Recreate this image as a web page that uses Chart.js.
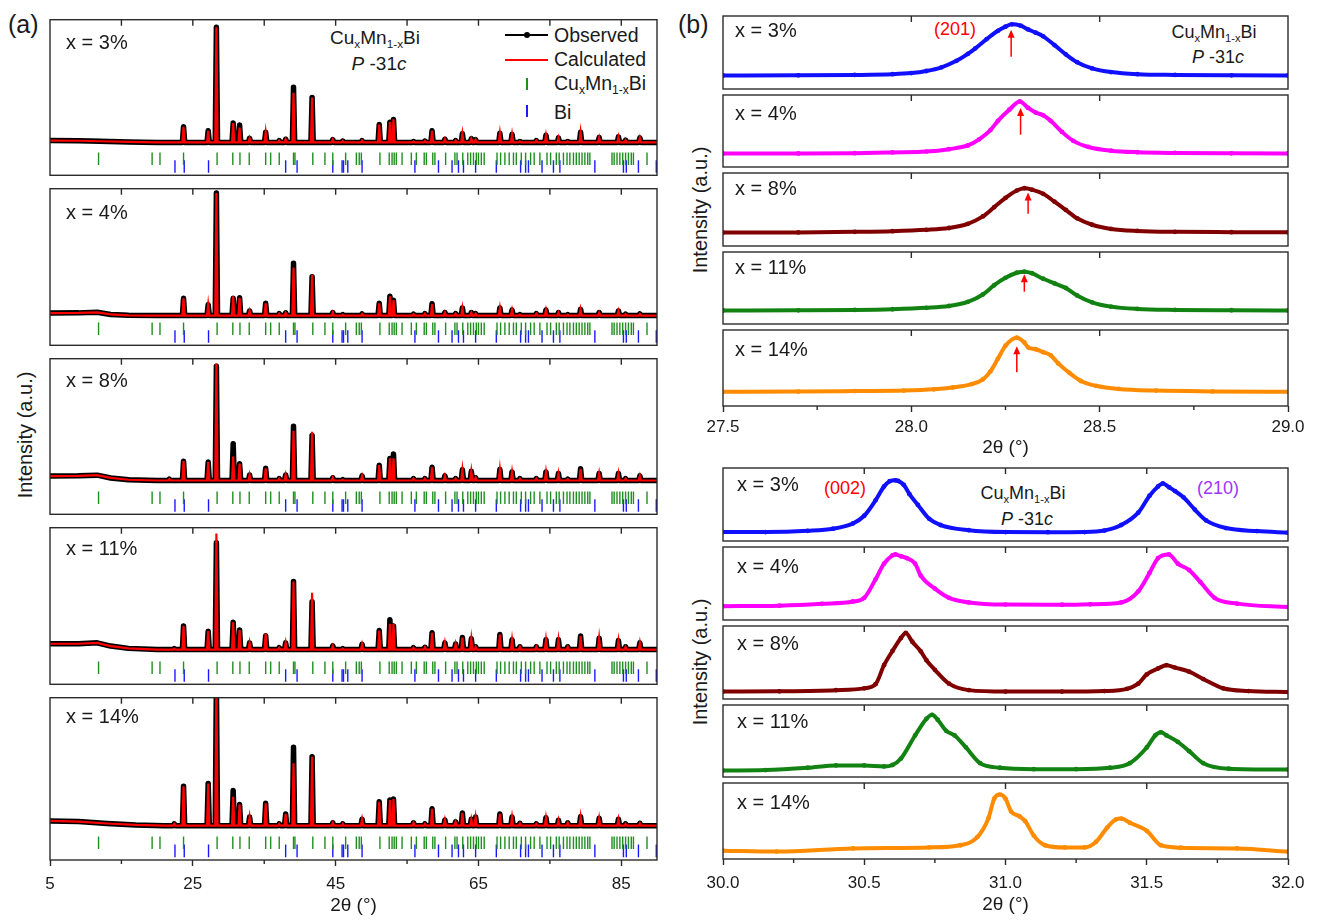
<!DOCTYPE html>
<html>
<head>
<meta charset="utf-8">
<title>CuxMn1-xBi XRD</title>
<script src="https://cdn.jsdelivr.net/npm/chart.js@4.4.1/dist/chart.umd.min.js"></script>
<style>
  body { margin: 0; background: #fff; }
  #fig { position: relative; width: 1317px; height: 920px; overflow: hidden; font-family: 'Liberation Sans', Arial, sans-serif; color: #1a1a1a; }
  #fig canvas { position: absolute; }
  .t { position: absolute; white-space: nowrap; line-height: 1; transform: translateY(-50%); font-size: 20px; }
  .t sub { font-size: 0.62em; vertical-align: -0.35em; line-height: 0; }
  .c { transform: translate(-50%, -50%); }
  .rot { transform: translate(-50%, -50%) rotate(-90deg); }
  .mk { position: absolute; }
</style>
</head>
<body>
<div id="fig">
  <div class="t" style="left:8px;top:24px;font-size:25px">(a)</div>
  <div class="t" style="left:678px;top:24px;font-size:25px">(b)</div>

  <div class="t rot" style="left:25px;top:435px">Intensity (a.u.)</div>
  <div class="t rot" style="left:700px;top:210px">Intensity (a.u.)</div>
  <div class="t rot" style="left:700px;top:662px">Intensity (a.u.)</div>

  <!-- panel (a) annotations and legend -->
  <div class="t c" style="left:375px;top:37px;font-size:19px">Cu<sub>x</sub>Mn<sub>1-x</sub>Bi</div>
  <div class="t c" style="left:379px;top:63px;font-size:19px"><i>P</i> -31<i>c</i></div>
  <div class="mk" style="left:505px;top:34px;width:43px;height:2px;background:#000"></div>
  <div class="mk" style="left:524px;top:32px;width:6px;height:6px;border-radius:50%;background:#000"></div>
  <div class="mk" style="left:505px;top:59px;width:43px;height:2px;background:#ff0000"></div>
  <div class="mk" style="left:526px;top:78px;width:1.5px;height:12px;background:#1f8f1f"></div>
  <div class="mk" style="left:526px;top:105px;width:1.5px;height:12px;background:#1a1aff"></div>
  <div class="t" style="left:554px;top:36px;font-size:19.5px">Observed</div>
  <div class="t" style="left:554px;top:60px;font-size:19.5px">Calculated</div>
  <div class="t" style="left:554px;top:84px;font-size:19.5px">Cu<sub>x</sub>Mn<sub>1-x</sub>Bi</div>
  <div class="t" style="left:554px;top:113px;font-size:19.5px">Bi</div>

  <!-- panel (b) annotations -->
  <div class="t" style="left:934px;top:29px;font-size:18px;color:#ff0000">(201)</div>
  <div class="t c" style="left:1214px;top:32px;font-size:18px">Cu<sub>x</sub>Mn<sub>1-x</sub>Bi</div>
  <div class="t c" style="left:1218px;top:57px;font-size:18px"><i>P</i> -31<i>c</i></div>
  <div class="t" style="left:824px;top:488px;font-size:18px;color:#ff0000">(002)</div>
  <div class="t c" style="left:1023px;top:493px;font-size:18px">Cu<sub>x</sub>Mn<sub>1-x</sub>Bi</div>
  <div class="t c" style="left:1027px;top:519px;font-size:18px"><i>P</i> -31<i>c</i></div>
  <div class="t" style="left:1197px;top:488px;font-size:18px;color:#a033ff">(210)</div>
</div>
<script>
// Sample labels
const samples = ["x = 3%", "x = 4%", "x = 8%", "x = 11%", "x = 14%"]

// Panel (a): 2θ axis
const xTicksA = [5, 25, 45, 65, 85]
const xMinorA = [15, 35, 55, 75]
const xTopA = [15, 25, 35, 45, 55, 65, 75, 85]

// Panel (a): peak positions and heights above background
const peakPos = [21.7, 22.4, 23.7, 27.15, 28.3, 30.65, 31.55, 32.95, 35.2, 37.1, 38.0, 39.1, 41.7, 44.6, 46.0, 48.7, 51.1, 52.6, 53.1, 55.9, 57.5, 58.5, 60.3, 61.8, 62.75, 64.0, 64.6, 68.0, 69.7, 70.8, 73.1, 74.45, 76.2, 77.5, 79.3, 81.9, 84.6, 85.6, 87.6]

const obs3 = [0, 0, 17, 12.7, 125, 21, 19, 4.5, 11, 2, 3.5, 60, 48.7, 3, 1.5, 2, 19.5, 22, 25, 1, 1.5, 12.7, 3.5, 2, 9.5, 4, 3, 10, 8.7, 1, 2, 7.7, 5, 1, 11, 5.3, 6, 2.5, 5]
const calc3 = [0, 0, 17, 12.7, 125, 21, 16, 4.5, 11, 2, 3.5, 54, 48.7, 3, 1.5, 2, 19.5, 22, 25, 1, 1.5, 12.7, 3.5, 2, 9.5, 4, 3, 10, 8.7, 1, 2, 7.7, 5, 1, 11, 5.3, 6, 2.5, 5]
const obs4 = [0, 0, 18.7, 11.7, 133, 18.7, 19.3, 5, 13.3, 2, 3, 56.7, 42, 3.3, 1, 1.7, 13.3, 21, 16.7, 1.5, 2, 12.7, 3.3, 2, 8.3, 3.3, 2, 8.3, 6, 1, 2, 6, 3.3, 1, 6.7, 3.3, 5, 1.5, 1.7]
const calc4 = [0, 0, 18.7, 11.7, 133, 21, 19.3, 5, 13.3, 2, 3, 52, 44.3, 3.3, 1, 1.7, 13.3, 21, 16.7, 1.5, 2, 12.7, 3.3, 2, 8.3, 3.3, 2, 8.3, 6, 1, 2, 6, 3.3, 1, 6.7, 3.3, 5, 1.5, 1.7]
const obs8 = [1.5, 0, 21, 20, 124, 40, 18.3, 6, 13.3, 2, 6, 59, 49, 3, 1, 5, 16.7, 24, 28.7, 2, 2, 14.3, 5, 2, 11.7, 10, 3, 12, 9.3, 2, 2, 9.3, 7.7, 1.5, 12.7, 7.7, 7.7, 2, 5]
const calc8 = [1.5, 0, 21, 20, 127, 26, 18.3, 6, 13.3, 2, 6, 54, 53, 3, 1, 5, 16.7, 24, 24, 2, 2, 14.3, 5, 2, 11.7, 10, 3, 12, 9.3, 2, 2, 9.3, 7.7, 1.5, 12.7, 7.7, 7.7, 2, 5]
const obs11 = [0, 1, 25.7, 20, 116, 29.7, 21.3, 7.3, 15, 2, 7.3, 74, 52, 4, 1, 5.7, 20.7, 32.3, 25.7, 2, 2.5, 18.3, 7.3, 6, 13, 11.7, 3, 16.3, 10.7, 3, 3, 10.7, 10.7, 3, 14.7, 12.3, 9.7, 3, 7.3]
const calc11 = [0, 1, 25.7, 20, 126, 29.7, 21.3, 7.3, 17.3, 2, 7.3, 74, 61.7, 4, 1, 5.7, 20.7, 28, 28, 2, 2.5, 18.3, 7.3, 6, 13, 11.7, 3, 16.3, 10.7, 3, 3, 10.7, 10.7, 3, 14.7, 12.3, 9.7, 3, 7.3]
const obs14 = [0, 2, 41, 44, 150, 36.7, 22, 9, 23.3, 2, 12.3, 81.7, 71.7, 3, 2, 6.7, 25, 26.7, 27.7, 3, 2, 17.7, 6, 4, 13.3, 6.7, 9, 12.3, 9, 2.5, 2, 8.3, 5.7, 3, 9.3, 7.7, 6.7, 2, 2.5]
const calc14 = [0, 2, 41, 44, 150, 30, 22, 9, 23.3, 2, 12.3, 65, 71.7, 3, 2, 6.7, 25, 26.7, 27.7, 3, 2, 17.7, 6, 4, 13.3, 6.7, 9, 12.3, 9, 2.5, 2, 8.3, 5.7, 3, 9.3, 7.7, 6.7, 2, 2.5]

// Panel (a): low-angle background, last entry is the flat level under the peaks
const bg3 = [[5, 2.7], [9, 2.5], [12, 2], [16, 1.2], [20, 0.7], [90, 0.7]]
const bg4 = [[5, 0], [9, 0.2], [11.6, 0.8], [13.5, -1.5], [16, -2.5], [20, -2.7], [90, -2.7]]
const bg8 = [[5, 6.5], [9, 6.8], [11.6, 7.5], [13.5, 4.5], [16, 2.5], [20, 1.7], [90, 1.7]]
const bg11 = [[5, 9], [9, 9], [11.6, 10], [13.5, 6.5], [16, 4], [20, 2.7], [90, 2.7]]
const bg14 = [[5, 5.7], [9, 5], [13, 3], [17, 1.5], [21, 0.7], [90, 0.7]]

// Panel (a): Bragg reflection positions
const braggCuMnBi = [11.8, 19.3, 20.4, 23.7, 28.4, 30.6, 31.6, 32.9, 35.2, 35.9, 37.1, 39.1, 39.3, 41.8, 43.5, 44.6, 46.4, 47.9, 48.3, 48.6, 51.2, 52.5, 52.9, 53.2, 53.5, 54.3, 55.6, 56.3, 57.4, 57.7, 58.6, 58.9, 60.4, 61.7, 62.0, 62.8, 63.5, 63.9, 64.3, 64.7, 65.0, 65.4, 65.8, 67.6, 68.1, 68.7, 69.3, 69.9, 70.3, 71.0, 71.6, 72.3, 72.8, 73.6, 74.6, 75.1, 75.9, 76.3, 76.9, 77.4, 77.8, 78.3, 78.7, 79.1, 79.5, 79.9, 80.3, 80.6, 83.7, 84.0, 84.4, 84.8, 85.2, 85.6, 86.0, 86.4, 86.7, 88.6]
const braggBi = [22.5, 23.8, 27.2, 38.0, 39.6, 44.6, 45.9, 46.1, 46.7, 48.7, 56.1, 59.4, 61.3, 62.2, 62.9, 64.6, 67.5, 70.9, 71.6, 72.0, 73.9, 75.5, 76.4, 81.3, 85.3, 85.7, 87.4, 89.9]

// Panel (b) top: (201) reflection, [2θ, intensity]
const xTicksB1 = [27.5, 28.0, 28.5, 29.0]
const xMinorB1 = [27.75, 28.25, 28.75]
const xTopB1 = [28.0, 28.5]
const top3 = [[27.5, 14.7], [27.7, 14.8], [27.85, 15.2], [27.95, 16], [28.0, 17.2], [28.04, 19.5], [28.08, 23.5], [28.12, 30.5], [28.15, 38], [28.17, 44], [28.2, 54], [28.23, 63], [28.25, 67.5], [28.267, 70], [28.29, 68.5], [28.31, 64.5], [28.33, 61], [28.35, 57], [28.38, 47.5], [28.41, 37.5], [28.44, 29], [28.48, 22.3], [28.53, 18.3], [28.6, 16], [28.7, 15.2], [28.85, 14.8], [29.0, 14.7]]
const top4 = [[27.5, 14.5], [27.7, 14.6], [27.85, 15], [27.95, 15.8], [28.04, 16.7], [28.1, 19.3], [28.15, 23.3], [28.18, 30], [28.21, 40], [28.23, 50], [28.26, 62], [28.288, 71], [28.31, 64], [28.33, 59], [28.35, 56], [28.37, 50], [28.4, 38], [28.43, 28.3], [28.47, 21.7], [28.53, 17.7], [28.6, 16], [28.7, 15.2], [28.85, 14.8], [29.0, 14.7]]
const top8 = [[27.5, 14.5], [27.7, 14.7], [27.85, 15.3], [27.95, 16], [28.04, 17.5], [28.1, 19.5], [28.15, 24], [28.19, 32], [28.22, 42], [28.25, 52], [28.28, 60], [28.3, 62.5], [28.32, 61], [28.35, 56.5], [28.38, 48], [28.41, 39], [28.44, 30], [28.48, 23], [28.53, 18.5], [28.6, 16.3], [28.7, 15.3], [28.85, 15], [29.0, 14.8]]
const top11 = [[27.5, 14.6], [27.7, 14.8], [27.85, 15.2], [27.95, 16], [28.04, 17.5], [28.1, 19.5], [28.15, 24], [28.19, 32], [28.22, 42], [28.25, 50], [28.28, 55.5], [28.3, 56.7], [28.32, 55], [28.35, 49], [28.38, 44], [28.41, 39], [28.44, 31], [28.48, 23.5], [28.53, 18.8], [28.6, 16.3], [28.7, 15.3], [28.85, 14.9], [29.0, 14.7]]
const top14 = [[27.5, 14.7], [27.7, 15], [27.85, 15.5], [27.98, 16], [28.06, 17.3], [28.11, 19.3], [28.16, 22.7], [28.19, 27.7], [28.21, 36], [28.23, 49.3], [28.25, 62.7], [28.28, 71], [28.3, 66], [28.31, 61], [28.33, 59], [28.35, 56], [28.37, 52.7], [28.39, 44.3], [28.42, 34.3], [28.45, 26], [28.49, 21], [28.55, 17.7], [28.65, 16], [28.8, 15.2], [29.0, 14.7]]
const arrowPos = [28.265, 28.29, 28.31, 28.3, 28.28]
const arrowTip = [64, 64, 58, 54, 62]

// Panel (b) bottom: (002) and (210) reflections, [2θ, intensity]
const xTicksB2 = [30.0, 30.5, 31.0, 31.5, 32.0]
const xMinorB2 = [30.25, 30.75, 31.25, 31.75]
const xTopB2 = [30.5, 31.0, 31.5]
const bot3 = [[30.0, 9.7], [30.15, 9.7], [30.3, 11], [30.39, 13.3], [30.46, 19], [30.5, 27.3], [30.54, 44], [30.57, 59], [30.59, 64.7], [30.61, 65.7], [30.62, 65], [30.64, 60.7], [30.66, 50.7], [30.69, 39], [30.73, 24], [30.77, 17.3], [30.87, 11.7], [31.0, 9.7], [31.15, 9.5], [31.28, 9.7], [31.35, 11.3], [31.41, 17.3], [31.47, 30.7], [31.51, 49], [31.54, 59], [31.557, 62.3], [31.58, 58], [31.6, 54], [31.63, 47.3], [31.67, 34], [31.71, 22.3], [31.78, 14], [31.89, 10.7], [32.0, 9]]
const bot4 = [[30.0, 15], [30.2, 15.5], [30.35, 17.5], [30.46, 20], [30.5, 24], [30.54, 44], [30.57, 61], [30.6, 70], [30.61, 71], [30.63, 69], [30.65, 67], [30.68, 61], [30.7, 48], [30.75, 34], [30.8, 24], [30.87, 19], [31.0, 16.7], [31.2, 16.5], [31.3, 17], [31.41, 19], [31.47, 31], [31.51, 51], [31.54, 67], [31.578, 71], [31.61, 61], [31.65, 54], [31.69, 41], [31.74, 24], [31.82, 17.7], [32.0, 14]]
const bot8 = [[30.0, 8], [30.2, 8.3], [30.4, 9.5], [30.5, 11.5], [30.54, 16], [30.57, 36.6], [30.6, 52], [30.63, 66], [30.647, 71.5], [30.67, 62], [30.7, 51.6], [30.72, 42], [30.75, 31.6], [30.8, 16.6], [30.87, 9.6], [31.0, 8], [31.2, 8], [31.35, 8.6], [31.43, 11], [31.47, 16.6], [31.5, 26.6], [31.54, 33], [31.57, 36.6], [31.6, 34], [31.65, 29.6], [31.7, 21.6], [31.77, 11.6], [31.86, 8.6], [32.0, 7.5]]
const bot11 = [[30.0, 7], [30.15, 7.5], [30.3, 10], [30.4, 12.5], [30.5, 12.5], [30.57, 11.5], [30.6, 13], [30.63, 20], [30.68, 45], [30.72, 63], [30.74, 67.4], [30.76, 62], [30.79, 50], [30.82, 45], [30.86, 32], [30.91, 15], [30.98, 10], [31.1, 8.5], [31.25, 8.5], [31.37, 10], [31.44, 15], [31.5, 32], [31.53, 45], [31.55, 48.4], [31.57, 45], [31.61, 38], [31.65, 28], [31.7, 15], [31.79, 9], [32.0, 8]]
const bot14 = [[30.0, 8.7], [30.19, 7.7], [30.46, 11], [30.73, 12], [30.84, 14.3], [30.9, 22.7], [30.94, 42.7], [30.96, 62.7], [30.98, 67], [31.0, 62.7], [31.02, 49.3], [31.05, 44.3], [31.07, 39.3], [31.1, 24.3], [31.14, 14.3], [31.21, 12], [31.28, 12], [31.32, 17.7], [31.36, 32.7], [31.39, 41], [31.41, 42], [31.44, 37.7], [31.5, 29.3], [31.55, 14.3], [31.62, 11.7], [31.82, 11], [32.0, 7.7]]

const sampleColors = ["#1010ff", "#ff00ff", "#800000", "#128212", "#ff8c00"]

// ------------------------------------------------------------------
const fig = document.getElementById("fig")
const PAD = 30
const INK = "#1a1a1a"

Chart.defaults.font.family = "'Liberation Sans', Arial, sans-serif"
Chart.defaults.color = INK
Chart.defaults.animation = false
Chart.defaults.events = []
Chart.defaults.plugins.legend.display = false
Chart.defaults.plugins.tooltip.enabled = false

// Frame, inward top ticks, short minor ticks and red arrows
const framePlugin = {
  id: "frame",
  afterDatasetsDraw(chart, args, opts) {
    const { ctx, chartArea: a, scales } = chart
    const x = scales.x
    const y = scales.y
    ctx.save()
    ctx.strokeStyle = "#2b2b2b"
    ctx.lineWidth = 1.4
    ctx.beginPath()
    for (const v of opts.top || []) {
      const px = x.getPixelForValue(v)
      ctx.moveTo(px, a.top)
      ctx.lineTo(px, a.top + 6)
    }
    for (const v of opts.minor || []) {
      const px = x.getPixelForValue(v)
      ctx.moveTo(px, a.bottom)
      ctx.lineTo(px, a.bottom + 4)
    }
    ctx.stroke()
    ctx.strokeRect(a.left, a.top, a.right - a.left, a.bottom - a.top)
    if (opts.arrow) {
      const px = x.getPixelForValue(opts.arrow.x)
      const y0 = y.getPixelForValue(opts.arrow.from)
      const y1 = y.getPixelForValue(opts.arrow.to)
      ctx.strokeStyle = "#ff0000"
      ctx.fillStyle = "#ff0000"
      ctx.lineWidth = 1.5
      ctx.beginPath()
      ctx.moveTo(px, y0)
      ctx.lineTo(px, y1 + 5)
      ctx.stroke()
      ctx.beginPath()
      ctx.moveTo(px, y1)
      ctx.lineTo(px - 3.5, y1 + 8)
      ctx.lineTo(px + 3.5, y1 + 8)
      ctx.closePath()
      ctx.fill()
    }
    ctx.restore()
  },
}
Chart.register(framePlugin)

function bottomAxis(ticks, fmt, height, labelPad, titlePad) {
  return {
    display: true,
    position: "bottom",
    afterBuildTicks: (s) => {
      s.ticks = ticks.map((v) => ({ value: v }))
    },
    afterFit: (s) => {
      s.height = height
    },
    grid: { drawOnChartArea: false, drawTicks: true, tickLength: 6, tickWidth: 1.4, tickColor: "#2b2b2b" },
    border: { display: false },
    ticks: { autoSkip: false, maxRotation: 0, padding: labelPad, color: INK, font: { size: 17 }, callback: (v) => fmt(v) },
    title: { display: true, text: "2θ (°)", color: INK, font: { size: 19 }, padding: { top: 0, bottom: titlePad } },
  }
}

function makeLayer(o) {
  const canvas = document.createElement("canvas")
  canvas.width = o.width + 2 * PAD
  canvas.height = o.height + 1 + (o.axis ? o.axis.height : 1)
  canvas.style.left = o.left - PAD + "px"
  canvas.style.top = o.top - 1 + "px"
  fig.appendChild(canvas)

  const xScale = o.axis ? bottomAxis(o.axis.ticks, o.axis.fmt, o.axis.height, o.axis.labelPad, o.axis.titlePad) : { display: false }
  xScale.type = "linear"
  xScale.min = o.xMin
  xScale.max = o.xMax

  return new Chart(canvas, {
    type: "scatter",
    data: { datasets: o.datasets },
    options: {
      responsive: false,
      layout: { padding: { left: PAD, right: PAD, top: 1, bottom: o.axis ? 0 : 1 } },
      scales: {
        x: xScale,
        y: { type: "linear", display: false, min: o.yMin, max: o.yMax },
      },
      plugins: { frame: o.frame },
    },
  })
}

function addLabel(text, left, top) {
  const d = document.createElement("div")
  d.className = "t"
  d.style.left = left + "px"
  d.style.top = top + "px"
  d.textContent = text
  fig.appendChild(d)
}

// Observed / calculated profile from background and peak list
function pattern(bg, heights) {
  const base = bg[bg.length - 1][1]
  const pts = bg.slice(0, -1).map(([x, y]) => ({ x, y }))
  peakPos.forEach((p, i) => {
    if (!heights[i]) return
    pts.push({ x: p - 0.16, y: base }, { x: p, y: base + heights[i] }, { x: p + 0.16, y: base })
  })
  pts.push({ x: 90, y: base })
  return pts
}

// ---- Panel (a) ----
const obsA = [obs3, obs4, obs8, obs11, obs14]
const calcA = [calc3, calc4, calc8, calc11, calc14]
const bgA = [bg3, bg4, bg8, bg11, bg14]
const topsA = [13, 182, 352, 521, 691, 860]
const labelYA = [42, 212, 380, 548, 716]

samples.forEach((name, i) => {
  const h = topsA[i + 1] - topsA[i]
  const last = i === samples.length - 1
  makeLayer({
    left: 50, top: topsA[i], width: 607, height: h,
    xMin: 5, xMax: 90, yMin: -35, yMax: h - 35,
    axis: last ? { ticks: xTicksA, fmt: (v) => String(v), height: 60, labelPad: 8, titlePad: 3 } : null,
    frame: { top: xTopA, minor: last ? xMinorA : [] },
    datasets: [
      { data: pattern(bgA[i], calcA[i]), showLine: true, borderColor: "#ff0000", borderWidth: 2.2, pointRadius: 0, clip: 0, order: 0 },
      { data: pattern(bgA[i], obsA[i]), showLine: true, borderColor: "#000000", borderWidth: 5.5, borderJoinStyle: "round",
        pointRadius: 2.2, pointBackgroundColor: "#000000", pointBorderWidth: 0, clip: 0, order: 1 },
      { data: braggCuMnBi.map((x) => ({ x, y: -17 })), pointStyle: "line", pointRotation: 90, pointRadius: 6.3,
        pointBorderColor: "#1f8f1f", pointBorderWidth: 1.4, order: 2 },
      { data: braggBi.map((x) => ({ x, y: -25.5 })), pointStyle: "line", pointRotation: 90, pointRadius: 6.3,
        pointBorderColor: "#1a1aff", pointBorderWidth: 1.4, order: 2 },
    ],
  })
  addLabel(name, 66, labelYA[i])
})

// ---- Panel (b), top: (201) ----
const topB1 = [13, 92, 170, 249, 327, 406]
const curvesB1 = [top3, top4, top8, top11, top14]
const labelYB1 = [30, 113, 188, 267, 349]

samples.forEach((name, i) => {
  const h = topB1[i + 1] - topB1[i]
  const last = i === samples.length - 1
  makeLayer({
    left: 723, top: topB1[i], width: 565, height: h,
    xMin: 27.5, xMax: 29.0, yMin: 0, yMax: h,
    axis: last ? { ticks: xTicksB1, fmt: (v) => v.toFixed(1), height: 55, labelPad: 5, titlePad: 2 } : null,
    frame: { top: xTopB1, minor: last ? xMinorB1 : [], arrow: { x: arrowPos[i], from: 35, to: arrowTip[i] } },
    datasets: [
      { data: curvesB1[i].map(([x, y]) => ({ x, y })), showLine: true, borderColor: sampleColors[i], borderWidth: 4,
        cubicInterpolationMode: "monotone", pointRadius: 2.4, pointBackgroundColor: sampleColors[i], pointBorderWidth: 0 },
    ],
  })
  addLabel(name, 735, labelYB1[i])
})

// ---- Panel (b), bottom: (002) and (210) ----
const topB2 = [465, 544, 623, 702, 780, 859]
const curvesB2 = [bot3, bot4, bot8, bot11, bot14]
const labelYB2 = [484, 566, 643, 721, 802]

samples.forEach((name, i) => {
  const h = topB2[i + 1] - topB2[i]
  const last = i === samples.length - 1
  makeLayer({
    left: 723, top: topB2[i], width: 565, height: h,
    xMin: 30.0, xMax: 32.0, yMin: 0, yMax: h,
    axis: last ? { ticks: xTicksB2, fmt: (v) => v.toFixed(1), height: 60, labelPad: 8, titlePad: 3 } : null,
    frame: { top: xTopB2, minor: last ? xMinorB2 : [] },
    datasets: [
      { data: curvesB2[i].map(([x, y]) => ({ x, y })), showLine: true, borderColor: sampleColors[i], borderWidth: 4,
        cubicInterpolationMode: "monotone", pointRadius: 2.4, pointBackgroundColor: sampleColors[i], pointBorderWidth: 0 },
    ],
  })
  addLabel(name, 737, labelYB2[i])
})
</script>
</body>
</html>
